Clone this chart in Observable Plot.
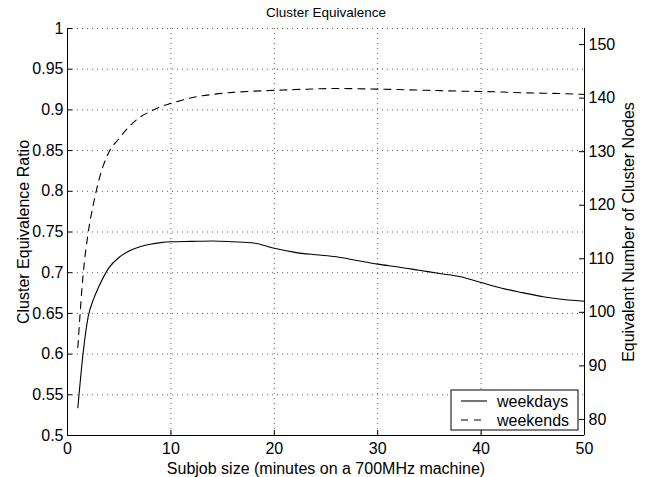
<!DOCTYPE html>
<html>
<head>
<meta charset="utf-8">
<script src="https://cdn.jsdelivr.net/npm/d3@7"></script>
<script src="https://cdn.jsdelivr.net/npm/@observablehq/plot@0.6"></script>
<style>
  html, body { margin: 0; padding: 0; background: white; }
  #chart { position: relative; width: 647px; height: 477px; }
</style>
</head>
<body>
<div id="chart"></div>
<script>
// ---- data ----
const weekdaysX = [1, 1.5, 2, 2.5, 3, 4, 5, 6, 7, 8, 9, 10, 12, 14, 16, 18, 20, 22, 24, 26, 28, 30, 32, 34, 36, 38, 40, 42, 44, 46, 48, 50];
const weekdaysY = [0.534, 0.600, 0.646, 0.667, 0.682, 0.706, 0.719, 0.727, 0.732, 0.735, 0.737, 0.738, 0.7385, 0.739, 0.738, 0.7365, 0.730, 0.725, 0.722, 0.7195, 0.715, 0.7105, 0.707, 0.703, 0.699, 0.695, 0.688, 0.681, 0.6755, 0.6705, 0.667, 0.665];
const weekendsX = [1, 1.5, 2, 2.5, 3, 3.5, 4, 5, 6, 7, 8, 9, 10, 12, 14, 16, 18, 20, 22, 24, 26, 28, 30, 32, 34, 36, 38, 40, 42, 44, 46, 48, 50];
const weekendsY = [0.608, 0.696, 0.749, 0.784, 0.812, 0.833, 0.848, 0.865, 0.880, 0.891, 0.898, 0.904, 0.908, 0.915, 0.919, 0.9215, 0.923, 0.924, 0.925, 0.9258, 0.9263, 0.926, 0.9255, 0.925, 0.9243, 0.9237, 0.923, 0.9226, 0.922, 0.921, 0.9205, 0.920, 0.919];
const xTicks = [0, 10, 20, 30, 40, 50];
const yTicks = [0.5, 0.55, 0.6, 0.65, 0.7, 0.75, 0.8, 0.85, 0.9, 0.95, 1];
const rightTicks = [80, 90, 100, 110, 120, 130, 140, 150];
const rightDomain = [77, 153];
const seriesNames = ["weekdays", "weekends"];

// ---- layout ----
const W = 647, H = 477;
const mL = 67, mR = 63, mT = 28, mB = 42;
const plotW = W - mL - mR, plotH = H - mT - mB;
const yDomain = [0.5, 1];
const toLeft = r => yDomain[0] + (r - rightDomain[0]) / (rightDomain[1] - rightDomain[0]) * (yDomain[1] - yDomain[0]);
const fromLeft = v => rightDomain[0] + (v - yDomain[0]) / (yDomain[1] - yDomain[0]) * (rightDomain[1] - rightDomain[0]);

const wd = weekdaysX.map((x, i) => ({x, y: weekdaysY[i]}));
const we = weekendsX.map((x, i) => ({x, y: weekendsY[i]}));
const font = "'Liberation Sans', Arial, Helvetica, sans-serif";
const fmt = d => String(+d.toFixed(2));

const chart = Plot.plot({
  width: W, height: H,
  marginLeft: mL, marginRight: mR, marginTop: mT, marginBottom: mB,
  x: {domain: [0, 50]},
  y: {domain: yDomain},
  style: {fontFamily: font, fontSize: "16px", color: "black", background: "white"},
  marks: [
    Plot.gridX(xTicks.slice(1, -1), {stroke: "#333", strokeOpacity: 1, strokeWidth: 0.8, strokeDasharray: "1,4"}),
    Plot.gridY(yTicks.slice(1), {stroke: "#333", strokeOpacity: 1, strokeWidth: 0.8, strokeDasharray: "1,4"}),
    Plot.axisX({ticks: xTicks, tickSize: 0, tickPadding: 7, fontSize: 16, label: "Subjob size (minutes on a 700MHz machine)", labelAnchor: "center", labelArrow: "none", labelOffset: 38}),
    Plot.axisY({ticks: yTicks, tickSize: 0, tickPadding: 4, tickFormat: fmt, fontSize: 16, label: "Cluster Equivalence Ratio", labelAnchor: "center", labelArrow: "none", labelOffset: 50}),
    Plot.axisY(rightTicks.map(toLeft), {anchor: "right", tickSize: 0, tickPadding: 4, tickFormat: d => Math.round(fromLeft(d)), fontSize: 16, label: "Equivalent Number of Cluster Nodes", labelAnchor: "center", labelArrow: "none", labelOffset: 49}),
    // inward ticks
    Plot.tickY(yTicks, {y: d => d, insetRight: plotW - 5, stroke: "black"}),
    Plot.tickY(rightTicks, {y: d => toLeft(d), insetLeft: plotW - 5, stroke: "black"}),
    Plot.tickX(xTicks, {x: d => d, insetTop: plotH - 5, stroke: "black"}),
    // axis lines
    Plot.ruleX([0, 50], {stroke: "black", strokeWidth: 1}),
    Plot.ruleY([0.5], {stroke: "black", strokeWidth: 1}),
    // series
    Plot.line(wd, {x: "x", y: "y", stroke: "black", strokeWidth: 1.1, curve: "monotone-x"}),
    Plot.line(we, {x: "x", y: "y", stroke: "black", strokeWidth: 1.1, strokeDasharray: "7,6", curve: "monotone-x"}),
    // title
    Plot.text(["Cluster Equivalence"], {frameAnchor: "top", lineAnchor: "middle", dy: -16, fontSize: 13.5, fill: "black"})
  ]
});
document.getElementById("chart").appendChild(chart);

// legend (pixel-positioned box inside plot frame, lower right)
const svg = d3.select(chart);
const lg = svg.append("g").attr("font-family", font).attr("font-size", 16).attr("text-anchor", "start");
const bx = mL + plotW - 133, by = mT + plotH - 45, bw = 127, bh = 40;
lg.append("rect").attr("x", bx).attr("y", by).attr("width", bw).attr("height", bh)
  .attr("fill", "white").attr("stroke", "black").attr("stroke-width", 1);
seriesNames.forEach((name, i) => {
  const yy = by + 11 + i * 19;
  lg.append("line").attr("x1", bx + 10).attr("x2", bx + 36).attr("y1", yy).attr("y2", yy)
    .attr("stroke", "black").attr("stroke-width", 1.1)
    .attr("stroke-dasharray", i === 1 ? "7,6" : null);
  lg.append("text").attr("x", bx + 46).attr("y", yy).attr("dy", "0.35em").attr("fill", "black")
    .attr("text-anchor", "start").text(name);
});
</script>
</body>
</html>
